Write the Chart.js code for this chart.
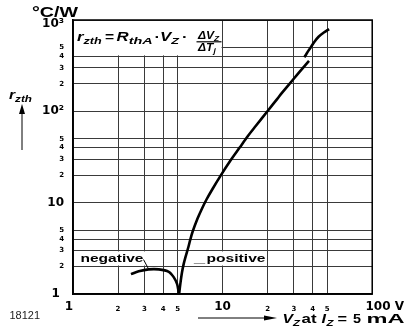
<!DOCTYPE html>
<html><head><meta charset="utf-8">
<script src="https://cdn.jsdelivr.net/npm/chart.js@4.4.1/dist/chart.umd.min.js"></script>
<style>html,body{margin:0;padding:0;background:#fff}#wrap{width:410px;height:328px}</style>
</head><body><div id="wrap"><canvas id="c" width="410" height="328"></canvas></div>
<script>
// ---- data ----
const xTickValues = [1,2,3,4,5,10,20,30,40,50,100];
const xTickLabels = ['1  ','2','3','4','5','10','2','3','4','5','      100 V'];
const yTickValues = [1,2,3,4,5,10,20,30,40,50,100,200,300,400,500,1000];
const yTickLabels = ['1 ','2','3','4','5','10','2','3','4','5','10²','2','3','4','5',['','10³']];

const negativeV = [2.44, 2.75, 3.2, 3.75, 4.37, 4.71, 4.96, 5.06, 5.1];
const negativeR = [1.65, 1.77, 1.86, 1.86, 1.75, 1.53, 1.29, 1.1, 1.0];

const positiveV = [5.12, 5.22, 5.35, 5.5, 5.68, 5.9, 6.07, 6.3, 6.8, 7.3, 7.82, 8.6, 9.82, 11.2, 13.0, 14.8, 16.7, 20, 23.2, 25, 30, 34, 37.8];
const positiveR = [1.0, 1.3, 1.72, 2.15, 2.62, 3.25, 3.9, 4.8, 6.7, 8.7, 10.9, 14.3, 20.4, 28.4, 40.1, 54, 69.5, 101, 137, 160, 229, 292, 357];

const upperV = [35.2, 36.3, 37.6, 38.8, 41, 43.8, 47.5, 51.5];
const upperR = [391, 425, 465, 500, 575, 656, 730, 796];

const majorValues = [1, 10, 100, 1000];

// ---- helpers ----
const zip = (xs, ys) => xs.map((v, i) => ({x: v, y: ys[i]}));
function txt(ctx, s, x, y, size, opt) {
  opt = opt || {};
  ctx.save();
  ctx.font = (opt.italic ? 'italic ' : '') + (opt.weight || 'bold') + ' ' + size + 'px "Liberation Sans", Arial, sans-serif';
  ctx.fillStyle = opt.color || '#000';
  ctx.textBaseline = 'alphabetic';
  const m = ctx.measureText(s).width;
  const sx = opt.w ? opt.w / m : (opt.sx || 1.35);
  ctx.translate(x, y);
  ctx.scale(sx, 1);
  ctx.fillText(s, 0, 0);
  ctx.restore();
  return x + m * sx;
}

const deco = {
  id: 'deco',
  beforeDatasetsDraw(chart) {
    const {ctx, chartArea: a, scales: {x, y}} = chart;
    ctx.save();
    ctx.fillStyle = '#fff';
    // formula box
    ctx.fillRect(a.left + 1, a.top + 1, x.getPixelForValue(10) - a.left - 2, y.getPixelForValue(400) - a.top - 2);
    // label boxes
    const y3 = y.getPixelForValue(3), y2 = y.getPixelForValue(2);
    ctx.fillRect(a.left + 1, y3 + 1, x.getPixelForValue(3.25) - a.left - 1, y2 - y3 - 2);
    const px0 = x.getPixelForValue(5.75), px1 = x.getPixelForValue(19.4);
    ctx.fillRect(px0, y3 + 1, px1 - px0, y2 - y3 - 2);
    ctx.restore();
  },
  afterDraw(chart) {
    const {ctx, chartArea: a} = chart;
    ctx.save();
    // frame
    ctx.strokeStyle = '#000';
    ctx.lineWidth = 1.5;
    ctx.strokeRect(a.left, a.top, a.right - a.left, a.bottom - a.top);

    // unit
    txt(ctx, '°C/W', 32, 16.5, 15, {w: 46});

    // formula
    let e = txt(ctx, 'r', 77, 41, 12, {italic: true, sx: 1.4});
    txt(ctx, 'zth', e, 44, 9, {italic: true, sx: 1.4});
    txt(ctx, '=', 105, 41, 12, {sx: 1.3});
    e = txt(ctx, 'R', 116.5, 41, 12, {italic: true, sx: 1.4});
    txt(ctx, 'thA', e, 44, 9, {italic: true, w: 24});
    txt(ctx, '·', 154.5, 41, 12, {sx: 1.4});
    e = txt(ctx, 'V', 160, 41, 12, {italic: true, sx: 1.4});
    txt(ctx, 'Z', e, 44, 9, {italic: true, sx: 1.4});
    txt(ctx, '·', 182, 41, 12, {sx: 1.4});
    e = txt(ctx, 'ΔV', 198, 39, 10, {italic: true, sx: 1.2});
    txt(ctx, 'Z', e, 41, 7, {italic: true, sx: 1.2});
    ctx.beginPath(); ctx.lineWidth = 1.2; ctx.moveTo(196.5, 41.8); ctx.lineTo(221.5, 41.8); ctx.stroke();
    e = txt(ctx, 'ΔT', 198, 51, 10, {italic: true, sx: 1.2});
    txt(ctx, 'j', e, 53, 7, {italic: true, sx: 1.2});

    // axis label r_zth with arrow
    e = txt(ctx, 'r', 9, 99, 12, {italic: true, sx: 1.3});
    txt(ctx, 'zth', e, 102, 9, {italic: true, sx: 1.3});
    ctx.beginPath(); ctx.lineWidth = 1; ctx.moveTo(22, 150); ctx.lineTo(22, 112); ctx.stroke();
    ctx.beginPath(); ctx.fillStyle = '#000';
    ctx.moveTo(22, 104); ctx.lineTo(25, 114); ctx.lineTo(19, 114); ctx.closePath(); ctx.fill();

    // series labels
    txt(ctx, 'negative', 80.5, 262, 11, {w: 63});
    ctx.beginPath(); ctx.lineWidth = 1; ctx.moveTo(143.5, 259.5); ctx.lineTo(148, 268); ctx.stroke();
    txt(ctx, '_', 194, 262, 11, {w: 11});
    txt(ctx, 'positive', 206.5, 262, 11, {w: 59});

    // figure number
    txt(ctx, '18121', 9.5, 318.5, 10, {weight: 'normal', w: 30.5, color: '#222'});

    // bottom arrow + x title
    ctx.beginPath(); ctx.lineWidth = 1; ctx.moveTo(198, 318); ctx.lineTo(266, 318); ctx.stroke();
    ctx.beginPath(); ctx.moveTo(277, 318); ctx.lineTo(264, 315.4); ctx.lineTo(264, 320.6); ctx.closePath(); ctx.fill();
    txt(ctx, 'V', 282.5, 323, 13, {italic: true, w: 10.5});
    txt(ctx, 'Z', 293, 326, 9, {italic: true, w: 7});
    txt(ctx, 'at', 301.5, 323, 13, {w: 15});
    txt(ctx, 'I', 321.5, 323, 13, {italic: true, w: 4.5});
    txt(ctx, 'Z', 326.5, 326, 9, {italic: true, w: 7});
    txt(ctx, '=', 337.5, 323, 13, {w: 9.5});
    txt(ctx, '5', 353, 323, 13, {w: 8});
    txt(ctx, 'mA', 366.5, 323, 13, {w: 38});
    ctx.restore();
  }
};

const isMajor = (c) => c.tick && majorValues.includes(c.tick.value);
const xTickFont = (c) => isMajor(c)
  ? {family: 'DejaVu Sans', weight: 'bold', size: 12, lineHeight: '14px'}
  : {family: 'DejaVu Sans', weight: 'bold', size: 7, lineHeight: '19px'};
const yTickFont = (c) => isMajor(c)
  ? {family: 'DejaVu Sans', weight: 'bold', size: 12, lineHeight: '8px'}
  : {family: 'DejaVu Sans', weight: 'bold', size: 7};

const lineDs = (data) => ({
  data, showLine: true, borderColor: '#000', borderWidth: 2.6,
  pointRadius: 0, tension: 0.3, fill: false, borderCapStyle: 'butt'
});

new Chart(document.getElementById('c'), {
  type: 'scatter',
  data: {
    datasets: [
      lineDs(zip(negativeV, negativeR)),
      lineDs(zip(positiveV, positiveR)),
      lineDs(zip(upperV, upperR))
    ]
  },
  options: {
    responsive: false, animation: false, devicePixelRatio: 1,
    layout: {padding: {top: 20, right: 34, left: 0, bottom: 0}},
    plugins: {legend: {display: false}, tooltip: {enabled: false}},
    scales: {
      x: {
        type: 'logarithmic', min: 1, max: 100,
        afterBuildTicks: (s) => { s.ticks = xTickValues.map(v => ({value: v})); },
        afterFit: (s) => { s.height = 34; },
        grid: {color: '#3a3a3a', lineWidth: 1, drawTicks: false},
        border: {color: '#000', width: 1.5},
        ticks: {
          autoSkip: false, maxRotation: 0, minRotation: 0, padding: 6, color: '#000',
          callback: (v, i) => xTickLabels[i], font: xTickFont
        }
      },
      y: {
        type: 'logarithmic', min: 1, max: 1000,
        afterBuildTicks: (s) => { s.ticks = yTickValues.map(v => ({value: v})); },
        afterFit: (s) => { s.width = 73; },
        grid: {color: '#3a3a3a', lineWidth: 1, drawTicks: false},
        border: {color: '#000', width: 1.5},
        ticks: {
          autoSkip: false, padding: 9, color: '#000',
          callback: (v, i) => yTickLabels[i], font: yTickFont
        }
      }
    }
  },
  plugins: [deco]
});
</script>
</body></html>
